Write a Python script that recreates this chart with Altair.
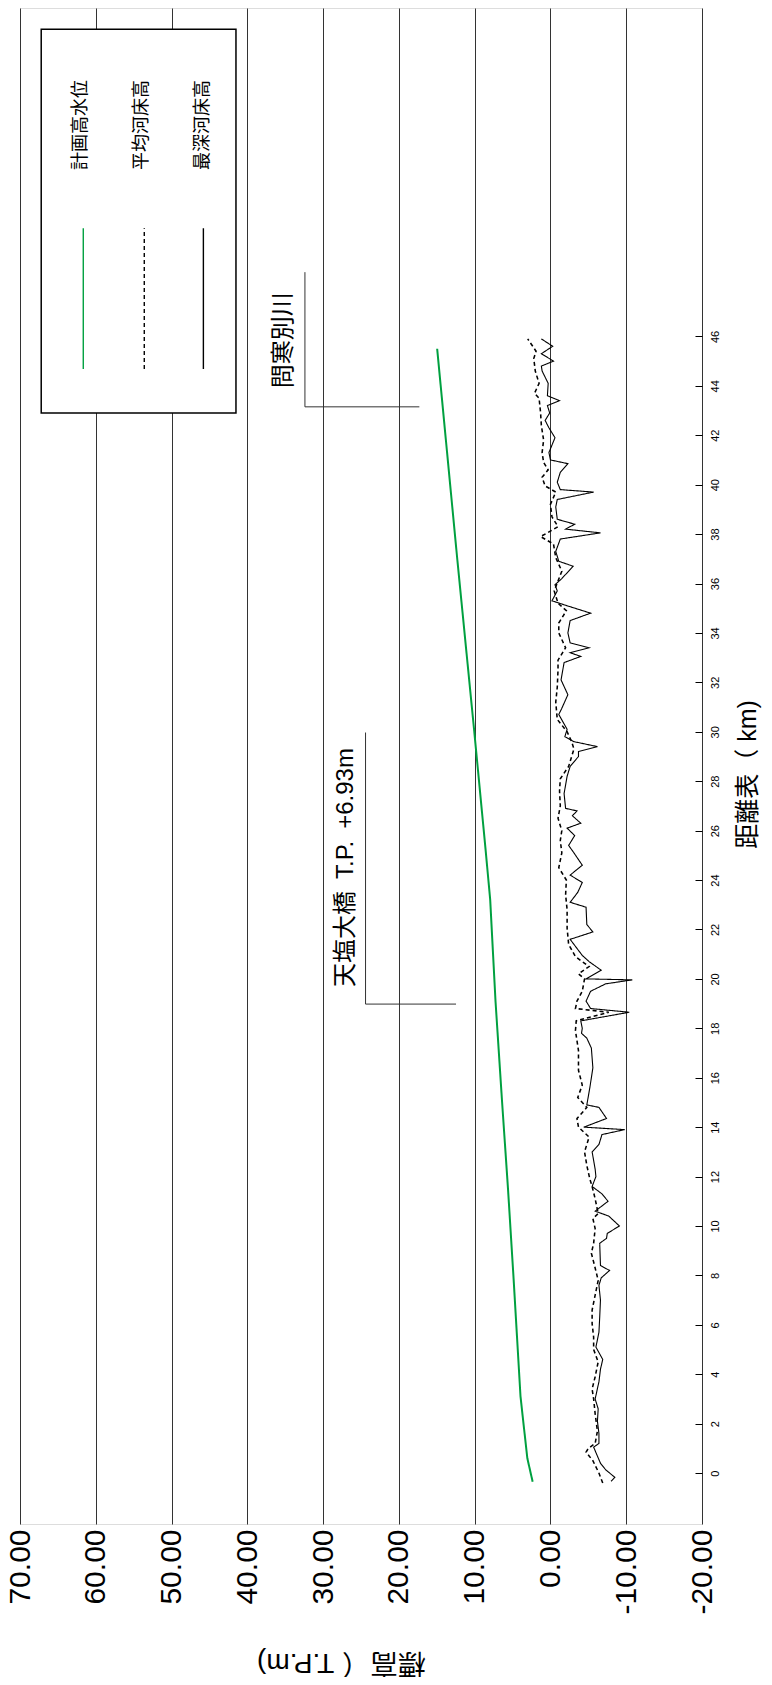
import altair as alt
import pandas as pd

FONT = "Liberation Sans, Noto Sans CJK JP, sans-serif"

# 計画高水位 (planned high water level)
plan_km = [-0.35, 0.6, 2.4, 3.1, 7.8, 11.5, 15.1, 19.1, 23.2, 25.2, 30.0, 37.0, 45.5]
plan_el = [2.35, 3.05, 3.7, 3.95, 4.85, 5.6, 6.4, 7.25, 7.95, 8.55, 10.05, 12.3, 14.95]

# 平均河床高 (mean riverbed elevation)
avg_km = [-0.4, 0.0, 0.5, 0.85, 1.0, 1.2, 1.7, 2.4, 3.0, 3.4, 3.9, 4.5, 5.0, 5.5, 6.05, 6.6,
          7.2, 7.8, 8.3, 8.9, 9.3, 9.9, 10.3, 10.5, 11.1, 11.6, 11.9, 12.45, 13.0, 13.6, 14.0,
          14.35, 14.8, 15.2, 15.7, 16.3, 17.1, 17.5, 17.9, 18.3, 18.65, 18.8, 19.1, 19.5, 20.0,
          20.2, 20.5, 20.9, 21.4, 22.05, 22.8, 23.4, 24.0, 24.5, 25.1, 25.6, 26.0, 26.5, 27.0,
          27.6, 28.1, 28.6, 29.3, 29.6, 30.0, 30.5, 31.2, 31.8, 32.5, 32.9, 33.4, 34.0, 34.4,
          34.9, 35.2, 35.7, 36.1, 36.5, 37.05, 37.6, 37.9, 38.05, 38.3, 38.7, 39.2, 39.7, 39.95,
          40.3, 40.6, 40.9, 41.3, 41.8, 42.4, 42.9, 43.5, 43.7, 44.1, 44.6, 45.1, 45.4, 45.9]
avg_el = [-6.9, -6.4, -5.6, -4.7, -5.0, -5.9, -6.2, -5.9, -5.7, -5.5, -5.9, -6.3, -5.7, -5.7, -5.5, -5.5,
          -5.9, -6.3, -5.9, -5.4, -5.7, -5.9, -5.6, -6.3, -5.9, -5.5, -5.2, -4.8, -4.5, -5.1, -3.7,
          -3.5, -4.8, -3.6, -4.2, -3.7, -3.7, -3.5, -3.3, -3.4, -7.7, -3.3, -3.5, -4.2, -4.5,
          -3.7, -5.1, -3.3, -2.4, -2.2, -2.2, -2.0, -2.1, -1.1, -1.5, -1.3, -1.5, -1.0, -1.3,
          -1.2, -1.3, -2.4, -3.1, -2.8, -2.2, -0.9, -0.7, -0.9, -1.0, -1.0, -2.0, -1.1, -1.1,
          -2.1, -1.0, -0.5, -1.0, -1.5, -0.7, -0.4, 1.3, 0.4, -1.0, -0.2, 0.0, -0.7, 0.7,
          1.1, 0.3, 0.9, 1.1, 0.9, 1.2, 1.3, 1.5, 2.1, 1.5, 2.0, 2.2, 1.9, 3.0]

# 最深河床高 (deepest riverbed elevation)
deep_km = [-0.33, -0.17, 0.13, 0.4, 1.05, 1.2, 1.6, 2.1, 2.6, 3.0, 3.7, 4.2, 4.6, 5.1, 5.7, 6.3,
           7.0, 7.6, 7.9, 8.2, 8.4, 9.3, 9.5, 9.7, 10.0, 10.4, 10.6, 11.0, 11.3, 11.6, 12.0, 12.3,
           13.0, 13.3, 13.7, 13.9, 14.0, 14.35, 14.8, 14.9, 15.6, 16.4, 17.2, 17.6, 17.8, 18.0,
           18.3, 18.65, 18.8, 19.1, 19.5, 19.8, 19.96, 20.0, 20.35, 20.7, 20.95, 21.6, 21.9,
           22.2, 22.9, 23.1, 23.5, 23.9, 24.2, 24.6, 25.1, 25.4, 25.8, 26.1, 26.3, 26.6, 26.8,
           26.9, 27.5, 28.2, 28.6, 29.0, 29.2, 29.4, 29.6, 29.8, 30.1, 30.7, 30.95, 31.5, 32.1,
           32.8, 33.05, 33.2, 33.4, 33.6, 34.0, 34.5, 34.8, 35.1, 35.3, 35.7, 35.95, 36.2, 36.7,
           36.9, 37.3, 37.8, 38.05, 38.2, 38.4, 38.6, 39.1, 39.4, 39.7, 39.8, 40.1, 40.5, 40.85,
           41.0, 41.3, 41.9, 42.3, 42.6, 42.9, 43.2, 43.4, 43.6, 44.1, 44.6, 44.8, 45.0, 45.3,
           45.6, 45.9]
deep_el = [-8.0, -8.5, -7.3, -6.6, -5.7, -6.4, -6.4, -6.2, -6.3, -5.9, -6.4, -6.6, -6.9, -6.0, -6.4, -6.5,
           -6.6, -6.4, -6.7, -7.8, -6.6, -6.5, -7.4, -7.5, -9.1, -7.7, -5.9, -7.6, -6.8, -5.5, -6.0, -5.9,
           -5.5, -6.4, -6.8, -9.8, -4.4, -7.4, -6.4, -4.8, -5.2, -5.6, -5.4, -4.8, -4.1, -4.2,
           -4.0, -10.4, -5.3, -4.7, -5.3, -7.3, -10.8, -4.7, -6.7, -5.1, -4.2, -2.6, -5.6,
           -4.8, -4.7, -2.6, -3.6, -4.2, -2.6, -4.2, -3.1, -2.4, -3.2, -2.2, -4.0, -2.9, -3.5,
           -2.0, -1.8, -2.2, -2.6, -3.7, -3.7, -6.2, -3.1, -1.9, -2.2, -1.1, -1.5, -2.3, -1.4,
           -1.8, -4.0, -2.6, -5.1, -2.6, -2.3, -2.6, -5.3, -2.2, -0.2, -0.9, -0.6, -1.5, -3.0,
           -1.1, -0.7, -1.3, -6.6, -2.0, -3.2, -0.9, -0.7, -0.9, -5.7, -1.3, -0.9, -1.3, -2.3,
           0.0, 0.2, -0.6, 0.2, 0.7, 0.1, 0.4, -1.2, 0.4, 0.3, 1.1, 1.2, -0.4, 1.2,
           -0.3, 1.2]

elev_ticks = [70, 60, 50, 40, 30, 20, 10, 0, -10, -20]
km_ticks = [0, 2, 4, 6, 8, 10, 12, 14, 16, 18, 20, 22, 24, 26, 28, 30, 32, 34, 36, 38, 40, 42, 44, 46]
elev_domain = [-20, 70]
km_domain = [-2.06, 59.29]

series_names = ["計画高水位", "平均河床高", "最深河床高"]
series_colors = ["#00a040", "#000000", "#000000"]
series_dash = [[1, 0], [4, 3], [1, 0]]
series_width = [2.0, 1.1, 1.3]

# legend box / sample positions (data units)
legend_box_el = [67.2, 41.5]
legend_box_km = [42.9, 58.43]
legend_line_el = [61.65, 53.6, 45.8]
legend_text_el = [61.9, 53.9, 45.85]
legend_line_km = [44.68, 50.38]
legend_text_km = 52.73

# annotations
note_text = ["天塩大橋\u2002T.P.\u2002+6.93m", "問寒別川"]
note_el = [27.0, 35.2]
note_km = [19.67, 43.9]
leader_el = [24.4, 32.4]
leader_top_km = [29.97, 48.6]
leader_km = [18.98, 43.15]
leader_end_el = [12.46, 17.3]

x_scale = alt.Scale(domain=elev_domain, reverse=True, nice=False, zero=False)
y_scale = alt.Scale(domain=km_domain, nice=False, zero=False)

x_axis = alt.Axis(
    values=elev_ticks, format=".2f", grid=True, gridColor="#333333", gridWidth=1,
    labelExpr="replace(datum.label, '\u2212', '-')",
    ticks=False, tickSize=0, domain=False, labelAngle=270, labelAlign="right",
    labelBaseline="middle", labelFontSize=30, labelFont=FONT, labelColor="#000",
    labelPadding=5, labelFlush=False, labelOverlap=False,
    title="標高（ T.P.m)", titleAngle=180, titleFontSize=28, titleFont=FONT,
    titleFontWeight="normal", titleColor="#000", titleBaseline="middle",
    titleAlign="center", titleX=321, titleY=137,
)
y_axis = alt.Axis(
    orient="right", values=km_ticks, format="d", grid=False, domain=False,
    ticks=True, tickSize=7, tickColor="#000", tickWidth=1, offset=-7,
    labelAngle=270, labelAlign="center", labelBaseline="top", labelFontSize=11,
    labelFont=FONT, labelColor="#000", labelPadding=7, labelFlush=False, labelOverlap=False,
    title="距離表（ km)", titleAngle=270, titleFontSize=25, titleFont=FONT,
    titleFontWeight="normal", titleColor="#000", titleBaseline="middle",
    titleAlign="center", titleX=52, titleY=766,
)

color_enc = alt.Color("series:N", scale=alt.Scale(domain=series_names, range=series_colors), legend=None)
dash_enc = alt.StrokeDash("series:N", scale=alt.Scale(domain=series_names, range=series_dash), legend=None)
width_enc = alt.StrokeWidth("series:N", scale=alt.Scale(domain=series_names, range=series_width), legend=None)

profile = pd.concat([
    pd.DataFrame({"km": plan_km, "el": plan_el, "series": series_names[0]}),
    pd.DataFrame({"km": avg_km, "el": avg_el, "series": series_names[1]}),
    pd.DataFrame({"km": deep_km, "el": deep_el, "series": series_names[2]}),
], ignore_index=True)

lines = alt.Chart(profile).mark_line(clip=True).encode(
    x=alt.X("el:Q", scale=x_scale, axis=x_axis),
    y=alt.Y("km:Q", scale=y_scale, axis=y_axis),
    order=alt.Order("km:Q"),
    detail="series:N",
    color=color_enc, strokeDash=dash_enc, strokeWidth=width_enc,
)

box_df = pd.DataFrame({"e1": [legend_box_el[0]], "e2": [legend_box_el[1]],
                       "k1": [legend_box_km[0]], "k2": [legend_box_km[1]]})
legend_box = alt.Chart(box_df).mark_rect(fill="white", stroke="#000", strokeWidth=1.5).encode(
    x=alt.X("e1:Q", scale=x_scale, axis=x_axis), x2="e2:Q",
    y=alt.Y("k1:Q", scale=y_scale, axis=y_axis), y2="k2:Q",
)

leg_df = pd.DataFrame({
    "series": series_names, "el": legend_line_el, "tel": legend_text_el,
    "k1": [legend_line_km[0]] * 3, "k2": [legend_line_km[1]] * 3, "tk": [legend_text_km] * 3,
})
legend_lines = alt.Chart(leg_df).mark_rule().encode(
    x=alt.X("el:Q", scale=x_scale, axis=x_axis),
    y=alt.Y("k1:Q", scale=y_scale, axis=y_axis), y2="k2:Q",
    color=color_enc, strokeDash=dash_enc,
    strokeWidth=alt.value(1.4),
)
legend_text = alt.Chart(leg_df).mark_text(
    angle=270, align="left", baseline="middle", fontSize=18, font=FONT, color="#000"
).encode(
    x=alt.X("tel:Q", scale=x_scale, axis=x_axis),
    y=alt.Y("tk:Q", scale=y_scale, axis=y_axis),
    text="series:N",
)

note_df = pd.DataFrame({"t": note_text, "el": note_el, "km": note_km,
                        "lel": leader_el, "ltop": leader_top_km, "lkm": leader_km,
                        "lend": leader_end_el})
notes = alt.Chart(note_df).mark_text(
    angle=270, align="left", baseline="middle", fontSize=24, font=FONT, color="#000"
).encode(
    x=alt.X("el:Q", scale=x_scale, axis=x_axis),
    y=alt.Y("km:Q", scale=y_scale, axis=y_axis),
    text="t:N",
)
leader_v = alt.Chart(note_df).mark_rule(color="#333", strokeWidth=1).encode(
    x=alt.X("lel:Q", scale=x_scale, axis=x_axis),
    y=alt.Y("lkm:Q", scale=y_scale, axis=y_axis), y2="ltop:Q",
)
leader_h = alt.Chart(note_df).mark_rule(color="#333", strokeWidth=1).encode(
    x=alt.X("lel:Q", scale=x_scale, axis=x_axis), x2="lend:Q",
    y=alt.Y("lkm:Q", scale=y_scale, axis=y_axis),
)

chart = alt.layer(
    leader_v, leader_h, notes, lines, legend_box, legend_lines, legend_text
).properties(
    width=682, height=1516,
    autosize=alt.AutoSizeParams(type="none"),
    padding={"left": 12, "top": 0, "right": 62, "bottom": 153},
).configure_view(
    stroke="#000", strokeWidth=1.5
).configure(font=FONT, background="white")

chart.save("out.html", embed_options={"renderer": "svg", "actions": False})
